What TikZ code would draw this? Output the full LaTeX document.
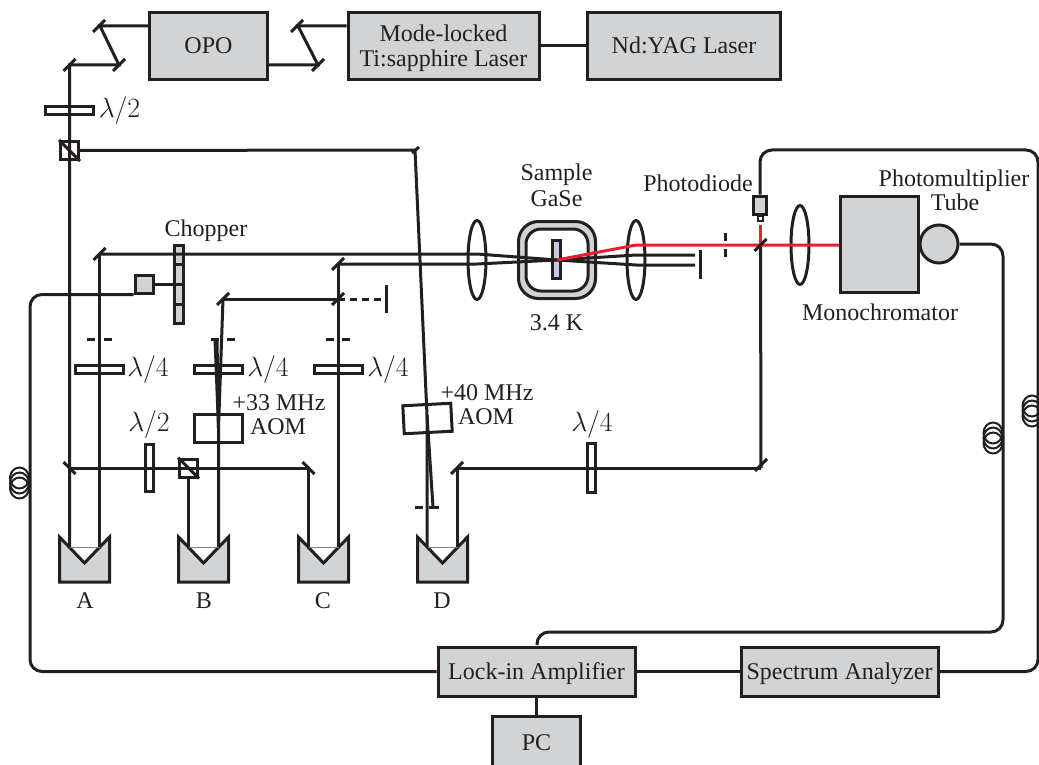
\documentclass[tikz,border=0pt]{standalone}
\usepackage{fontspec}
\setmainfont{Liberation Serif}
\usetikzlibrary{shapes.geometric}
\definecolor{ink}{HTML}{231F20}
\definecolor{boxgray}{HTML}{D1D3D4}
\definecolor{samplecol}{HTML}{C9C8E3}
\definecolor{beamred}{HTML}{ED1C2E}
\tikzset{
  instr/.style={draw,fill=boxgray,inner sep=0pt},
  plate/.style={draw,inner sep=0pt},
  lens/.style={draw,ellipse,inner sep=0pt,minimum width=18pt,minimum height=79pt},
  coil/.style={line width=2pt},
  txt/.style={text height=16pt,text depth=0pt},
  wave/.style={scale=1.12,transform shape},
  every node/.style={text=ink,font=\fontsize{24}{25}\selectfont}
}
\newcommand{\retrocube}[1]{
  \draw[fill=boxgray] (#1) +(-25,-10) -- +(0,16) -- +(25,-10) -- +(25,35) -- +(-25,35) -- cycle;
  \draw[line width=1pt,gray] (#1) +(-15,0) -- +(15,0);
}
\newcommand{\fibercoil}[1]{
  \draw[coil] (#1) +(0,-5) ellipse (9.5 and 10.5);
  \draw[coil] (#1) +(0,0) ellipse (9.5 and 10.5);
  \draw[coil] (#1) +(0,5) ellipse (9.5 and 10.5);
}

\begin{document}
\begin{tikzpicture}[x=1pt,y=-1pt,draw=ink,line width=3pt]
  \useasboundingbox (0,0) rectangle (1039,765);

  % instruments
  \node[instr,txt,minimum width=118pt,minimum height=67pt] (opo) at (208.5,46) {OPO};
  \node[instr,minimum width=191pt,minimum height=67pt] (tisa) at (443.5,46) {};
  \node[instr,txt,minimum width=193pt,minimum height=67pt] (yag) at (684,46) {Nd:YAG Laser};
  \node[instr,minimum width=78pt,minimum height=96pt] (mono) at (879.5,244.5) {};
  \node[instr,circle,minimum size=38pt] (pmt) at (939,244) {};
  \node[instr,txt,minimum width=197pt,minimum height=49pt] (lockin) at (536.5,671.5) {Lock-in Amplifier};
  \node[instr,txt,minimum width=197pt,minimum height=49pt] (specan) at (839.5,671.5) {Spectrum Analyzer};
  \node[instr,txt,minimum width=88pt,minimum height=52pt] (pc) at (536.5,742) {PC};
  \node[instr,minimum width=18pt,minimum height=18pt] (motor) at (144,284) {};
  \node[instr,minimum width=9pt,minimum height=78pt] (chopper) at (178.5,284.5) {};
  \draw (chopper.west |- motor) ++(0,-20) -- +(11,0) ++(0,20) -- +(11,0) ++(0,20) -- +(11,0);
  \node[instr,minimum width=13pt,minimum height=18pt] (diode) at (760,205) {};
  \node[plate,line width=2pt,minimum width=5pt,minimum height=5pt] (diodetip) at (760,218) {};

  % retroreflectors
  \coordinate (cubeA) at (84.5,547);
  \coordinate (cubeB) at (203.5,547);
  \coordinate (cubeC) at (323.5,547);
  \coordinate (cubeD) at (442.5,547);
  \retrocube{cubeA}
  \retrocube{cubeB}
  \retrocube{cubeC}
  \retrocube{cubeD}

  % mirrors
  \coordinate (mOpoA) at (100,26);
  \coordinate (mOpoB) at (119,65);
  \coordinate (mIn) at (69.5,65);
  \coordinate (mLaserA) at (298,26);
  \coordinate (mLaserB) at (318,65);
  \coordinate (mRef) at (415,150);
  \coordinate (mRowA) at (69.5,468);
  \coordinate (mRowC) at (308.5,468);
  \coordinate (mTopA) at (99.5,254);
  \coordinate (mTopC) at (338,264);
  \coordinate (mSplit) at (338,299);
  \coordinate (mAom) at (223,299);
  \coordinate (mRowD) at (457,468);
  \coordinate (mCorner) at (761,468);
  \coordinate (mOut) at (760.5,245);
  \draw (mOpoA) +(-7,6) -- +(5,-6);
  \draw (mOpoB) +(-6,6) -- +(6,-6);
  \draw (mIn) +(-6,6) -- +(6,-6);
  \draw (mLaserA) +(-7,6) -- +(5,-6);
  \draw (mLaserB) +(-6,6) -- +(6,-6);
  \draw (mRef) +(-3,3) -- +(4,-3);
  \draw (mRowA) +(-6,-6) -- +(6,6);
  \draw (mRowC) +(-6,-6) -- +(6,6);
  \draw (mTopA) +(-6,6) -- +(6,-6);
  \draw (mTopC) +(-6,6) -- +(6,-6);
  \draw (mSplit) +(-6,6) -- +(6,-6);
  \draw (mAom) +(-6,6) -- +(6,-6);
  \draw (mRowD) +(-6,6) -- +(6,-6);
  \draw (mCorner) +(-6,3) -- +(6,-9);

  % optics
  \node[plate,minimum width=48pt,minimum height=8pt] (halfTop) at (69.5,110.5) {};
  \node[plate,minimum width=18pt,minimum height=18pt] (pbsTop) at (69.5,150.5) {};
  \draw (pbsTop.north west) -- (pbsTop.south east);
  \node[plate,minimum width=8pt,minimum height=47pt] (halfRow) at (149.5,468) {};
  \node[plate,minimum width=18pt,minimum height=18pt] (pbsRow) at (188.5,468) {};
  \draw (pbsRow.north west) -- (pbsRow.south east);
  \node[plate,minimum width=48pt,minimum height=8pt] (quarterA) at (99.5,369.5) {};
  \node[plate,minimum width=48pt,minimum height=8pt] (quarterB) at (218.5,369.5) {};
  \node[plate,minimum width=48pt,minimum height=8pt] (quarterC) at (338,369.5) {};
  \node[plate,minimum width=8pt,minimum height=49pt] (quarterD) at (591.5,468) {};
  \node[plate,minimum width=48pt,minimum height=28pt] (aomB) at (218.5,428.5) {};
  \node[plate,rotate=3,minimum width=48pt,minimum height=28pt] (aomD) at (427.5,418.5) {};
  \node[lens] (lensA) at (477,260) {};
  \node[lens] (lensB) at (636,260) {};
  \node[lens] (lensC) at (800,245) {};
  \node[draw,fill=boxgray,rounded corners=20pt,inner sep=0pt,minimum size=77pt] (cryo) at (557,260) {};
  \node[draw,fill=white,rounded corners=15pt,inner sep=0pt,minimum size=62pt] (cryoin) at (557,260) {};
  \node[draw,fill=samplecol,inner sep=0pt,minimum width=8pt,minimum height=38pt] (sample) at (556.5,259.5) {};

  % beams
  \draw (opo.west |- mOpoA) -- (mOpoA) -- (mOpoB) -- (mIn) -- (mIn |- cubeA);
  \draw (opo.east |- mLaserB) -- (mLaserB) -- (mLaserA) -- (tisa.west |- mLaserA);
  \draw (tisa) -- (yag);
  \draw (pbsTop.east) -- (mRef);
  \coordinate (aomDout) at (427,415);
  \coordinate (stopDb) at (433,507);
  \draw (mRef) -- (aomDout) -- (aomDout |- cubeD);
  \draw (aomDout) -- (stopDb);
  \draw (mRowA) -- (mRowC) -- (mRowC |- cubeC);
  \draw (pbsRow.south) -- (pbsRow |- cubeB);
  \draw (mTopA) -- (mTopA |- cubeA);
  \coordinate (aomBout) at (218.5,428);
  \draw (aomB |- cubeB) -- (aomBout) -- (mAom);
  \draw (aomBout) -- (215,339);
  \draw (aomBout) -- (217,339);
  \draw (mTopC) -- (mTopC |- cubeC);
  \draw (mAom) -- (mSplit);
  \coordinate (stopSplit) at (386.5,299);
  \draw[dash pattern=on 7pt off 5pt] (mSplit) -- (stopSplit);
  \draw (stopSplit) +(0,-14) -- +(0,14);
  \draw (mCorner) -- (mRowD) -- (mRowD |- cubeD);
  \draw (mCorner) -- (mOut);

  % focused beams at the sample
  \coordinate (focus) at (557,260);
  \coordinate (endA) at (695,255);
  \coordinate (endB) at (695,265);
  \draw (mTopA) -- (lensA.center |- mTopA) -- (focus) -- (lensB.center |- endB) -- (endB);
  \draw (mTopC) -- (lensA.center |- mTopC) -- (focus) -- (lensB.center |- endA) -- (endA);
  \draw (700.5,250) -- (700.5,279);
  \coordinate (redA) at (636,245);
  \draw[beamred] (focus) -- (redA) -- (mono.west |- redA);
  \draw[beamred] (mOut) -- (760.5,225);
  \draw (mOut) +(-6,6) -- +(6,-6);
  \draw (725,233) -- (725,241) (725,249) -- (725,257);

  % apertures
  \coordinate (apA) at (99.5,339);
  \coordinate (apB) at (223,339);
  \coordinate (apC) at (338,339);
  \coordinate (apD) at (427,507);
  \draw (apA) +(-12.5,0) -- +(-4.5,0) +(4.5,0) -- +(12.5,0);
  \draw (apB) +(-12,0) -- +(-4,0) +(4,0) -- +(12,0);
  \draw (apC) +(-12,0) -- +(-4,0) +(4,0) -- +(12,0);
  \draw (apD) +(-12,0) -- +(-4,0) +(2,0) -- +(12,0);

  % signal lines
  \coordinate (sigLeft) at (30,671.5);
  \coordinate (sigTop) at (1038,150);
  \draw[rounded corners=12pt] (motor.south west) -- (sigLeft |- motor.south west) -- (sigLeft) -- (lockin.west);
  \draw (motor) -- (chopper.west |- motor);
  \draw[rounded corners=12pt] (diode.north) -- (diode.north |- sigTop) -- (sigTop) -- (sigTop |- specan) -- (specan.east);
  \draw[rounded corners=12pt] (pmt.east) -- (1003,244) -- (1003,632) -- (537,632) -- (537,645);
  \draw (lockin) -- (specan);
  \draw (lockin) -- (pc);

  % fibre coils
  \coordinate (coilA) at (19.5,483);
  \coordinate (coilB) at (993,438);
  \coordinate (coilC) at (1032,411);
  \fibercoil{coilA}
  \fibercoil{coilB}
  \fibercoil{coilC}

  % labels
  \node[txt] (lblTisaA) at (443.5,34) {Mode-locked};
  \node[txt] (lblTisaB) at (443.5,59) {Ti:sapphire Laser};
  \node[wave] (lblHalfTop) at (119.5,111) {$\lambda/2$};
  \node[txt] (lblChopper) at (206,228) {Chopper};
  \node[txt] (lblSampleA) at (556.5,173) {Sample};
  \node[txt] (lblSampleB) at (556.5,198) {GaSe};
  \node[txt] (lblTemp) at (556.5,322) {3.4 K};
  \node[txt] (lblDiode) at (698,183) {Photodiode};
  \node[txt] (lblPmtA) at (954,178) {Photomultiplier};
  \node[txt] (lblPmtB) at (955,202) {Tube};
  \node[txt] (lblMono) at (880,312) {Monochromator};
  \node[wave] (lblQuarterA) at (148,370) {$\lambda/4$};
  \node[wave] (lblQuarterB) at (268,370) {$\lambda/4$};
  \node[wave] (lblQuarterC) at (388,370) {$\lambda/4$};
  \node[wave] (lblQuarterD) at (592,425) {$\lambda/4$};
  \node[wave] (lblHalfRow) at (149,425) {$\lambda/2$};
  \node[txt] (lblFreqB) at (279,402) {+33 MHz};
  \node[txt] (lblAomB) at (278,426) {AOM};
  \node[txt] (lblFreqD) at (487,392) {+40 MHz};
  \node[txt] (lblAomD) at (486,416) {AOM};
  \node[txt] (lblA) at (85,600) {A};
  \node[txt] (lblB) at (204,600) {B};
  \node[txt] (lblC) at (323,600) {C};
  \node[txt] (lblD) at (442,600) {D};
\end{tikzpicture}
\end{document}
